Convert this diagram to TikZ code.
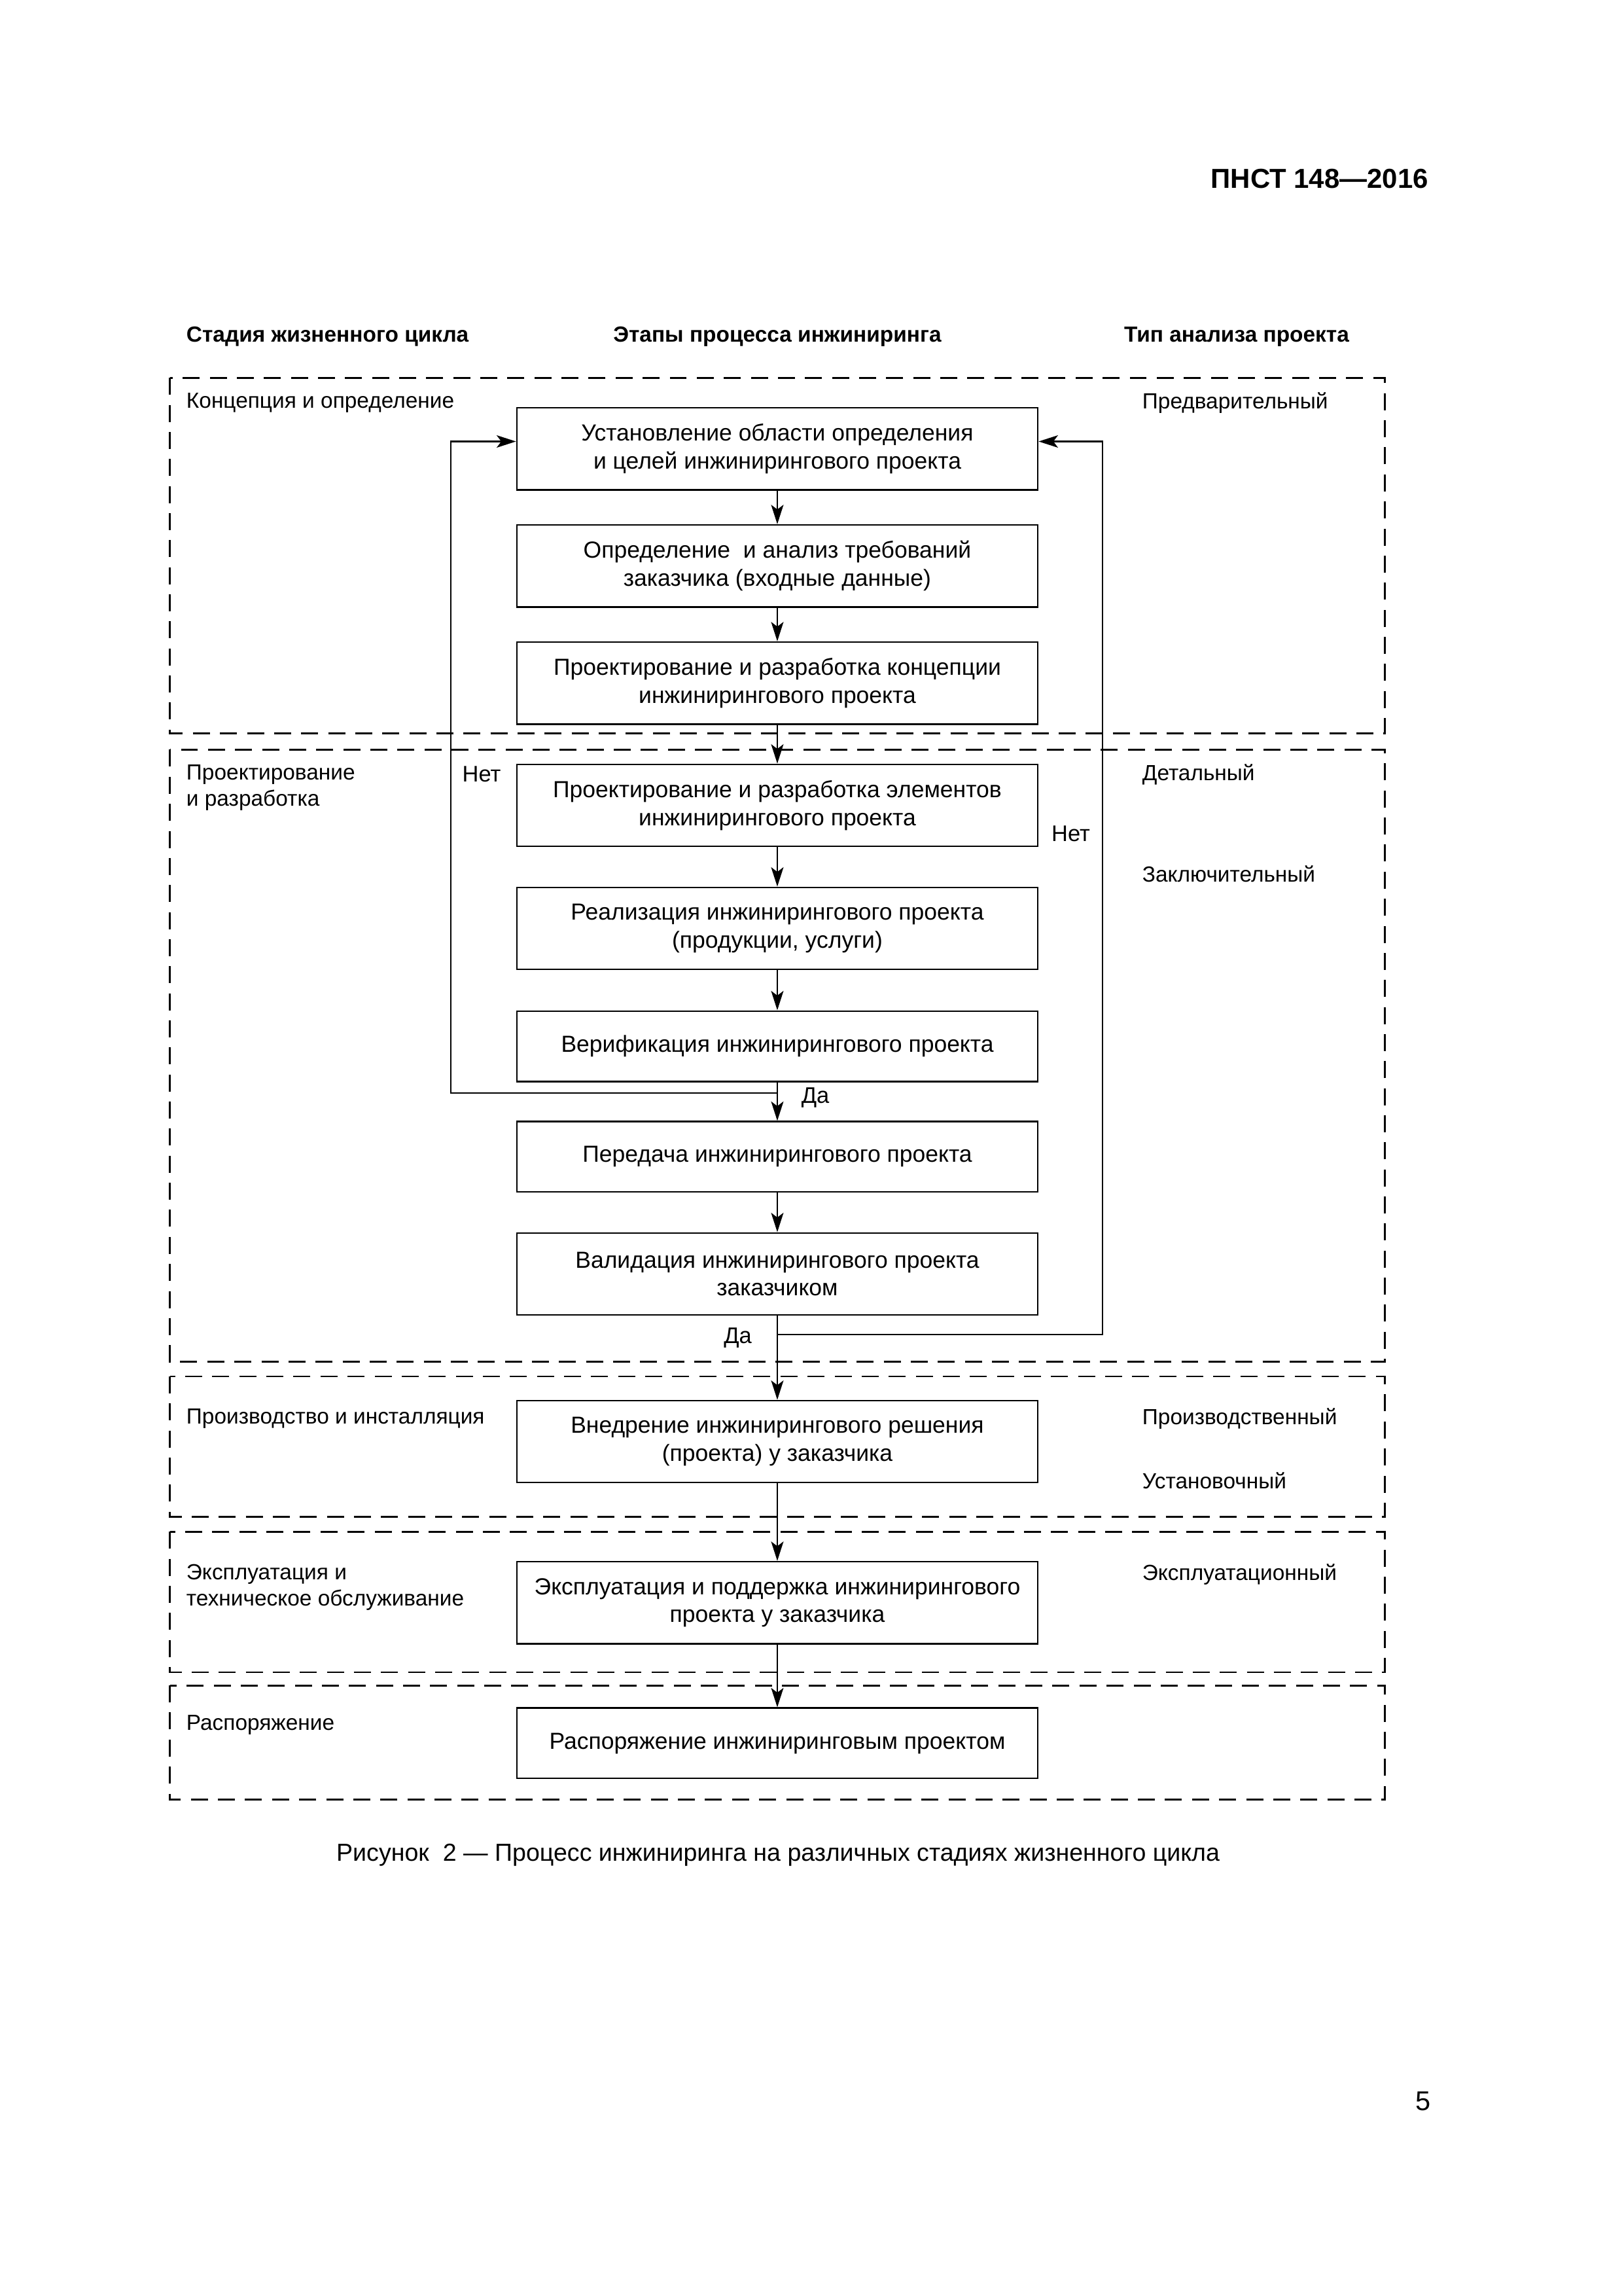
\documentclass[tikz,border=0pt]{standalone}
\usepackage{fontspec}
\setmainfont{Liberation Sans}
\usetikzlibrary{arrows.meta}

\tikzstyle{stage-frame}=[draw, line width=0.7pt, dash pattern=on 2.2mm off 1.3mm]
\tikzstyle{step-box}=[draw, line width=0.6pt, minimum width=67.4mm, minimum height=10.6mm, inner sep=0pt, align=center, font=\fontsize{8.55}{10.3}\selectfont]
\tikzstyle{step-box-low}=[step-box, minimum height=9.1mm]
\tikzstyle{flow}=[line width=0.55pt, -{Stealth[length=2.5mm, width=1.6mm, inset=0.6mm]}]
\tikzstyle{side-text}=[anchor=west, align=left, inner sep=0pt, font=\fontsize{8.05}{9.7}\selectfont]
\tikzstyle{branch-text}=[inner sep=0pt, font=\fontsize{8.3}{10}\selectfont]
\tikzstyle{head-text}=[inner sep=0pt, font=\fontsize{8.05}{10}\selectfont\bfseries]
\definecolor{PageBlack}{HTML}{000000}

\begin{document}
\begin{tikzpicture}[x=0.18936mm, y=-0.18936mm, color=PageBlack]
      \useasboundingbox (0,0) rectangle (1109,1568);

      \node (page-code) at (976,122) [anchor=east, inner sep=0pt, font=\fontsize{10.1}{12}\selectfont\bfseries] {ПНСТ 148—2016};

      \node (head-stage) at (127,230) [head-text, anchor=west] {Стадия жизненного цикла};
      \node (head-steps) at (531,230) [head-text] {Этапы процесса инжиниринга};
      \node (head-review) at (922,230) [head-text, anchor=east] {Тип анализа проекта};

      \draw[stage-frame] (116,258) rectangle (946,501);
      \draw[stage-frame] (116,512) rectangle (946,930);
      \draw[stage-frame] (116,940) rectangle (946,1036);
      \draw[stage-frame] (116,1046) rectangle (946,1142);
      \draw[stage-frame] (116,1151) rectangle (946,1229);

      \node (stage-concept) at (127,275) [side-text] {Концепция и определение};
      \node (stage-design) at (127,538) [side-text] {Проектирование\\и разработка};
      \node (stage-production) at (127,969) [side-text] {Производство и инсталляция};
      \node (stage-operation) at (127,1084) [side-text] {Эксплуатация и\\техническое обслуживание};
      \node (stage-disposal) at (127,1178) [side-text] {Распоряжение};

      \node (review-prelim) at (780,275) [side-text] {Предварительный};
      \node (review-detail) at (780,529) [side-text] {Детальный};
      \node (review-final) at (780,597) [side-text] {Заключительный};
      \node (review-prod) at (780,969) [side-text] {Производственный};
      \node (review-install) at (780,1011) [side-text] {Установочный};
      \node (review-oper) at (780,1075) [side-text] {Эксплуатационный};

      \node (step-scope) at (531,306.5) [step-box] {Установление области определения\\и целей инжинирингового проекта};
      \node (step-needs) at (531,386.5) [step-box] {Определение\ \ и анализ требований\\заказчика (входные данные)};
      \node (step-concept) at (531,466.5) [step-box] {Проектирование и разработка концепции\\инжинирингового проекта};
      \node (step-elements) at (531,550) [step-box] {Проектирование и разработка элементов\\инжинирингового проекта};
      \node (step-build) at (531,634) [step-box] {Реализация инжинирингового проекта\\(продукции, услуги)};
      \node (step-verify) at (531,714.5) [step-box-low] {Верификация инжинирингового проекта};
      \node (step-handover) at (531,790) [step-box-low] {Передача инжинирингового проекта};
      \node (step-validate) at (531,870) [step-box] {Валидация инжинирингового проекта\\заказчиком};
      \node (step-deploy) at (531,984.5) [step-box] {Внедрение инжинирингового решения\\(проекта) у заказчика};
      \node (step-support) at (531,1094.5) [step-box] {Эксплуатация и поддержка инжинирингового\\проекта у заказчика};
      \node (step-dispose) at (531,1190.5) [step-box-low] {Распоряжение инжиниринговым проектом};

      \draw[flow] (step-scope) -- (step-needs);
      \draw[flow] (step-needs) -- (step-concept);
      \draw[flow] (step-concept) -- (step-elements);
      \draw[flow] (step-elements) -- (step-build);
      \draw[flow] (step-build) -- (step-verify);
      \draw[flow] (step-verify) -- (step-handover);
      \draw[flow] (step-handover) -- (step-validate);
      \draw[flow] (step-validate) -- (step-deploy);
      \draw[flow] (step-deploy) -- (step-support);
      \draw[flow] (step-support) -- (step-dispose);

      \coordinate (branch-verify) at (531,746.5);
      \coordinate (branch-validate) at (531,911.5);
      \draw[flow] (branch-verify) -- ++(-223,0) |- ([yshift=0.95mm]step-scope.west);
      \draw[flow] (branch-validate) -- ++(222,0) |- ([yshift=0.95mm]step-scope.east);

      \node (answer-no-left) at (329,528.5) [branch-text] {Нет};
      \node (answer-no-right) at (731.5,569.5) [branch-text] {Нет};
      \node (answer-yes-verify) at (557,749.5) [branch-text] {Да};
      \node (answer-yes-validate) at (504,913.5) [branch-text] {Да};

      \node (page-caption) at (531.5,1267) [inner sep=0pt, font=\fontsize{9.05}{11}\selectfont] {Рисунок\ \ 2 — Процесс инжиниринга на различных стадиях жизненного цикла};
      \node (page-number) at (972,1435) [inner sep=0pt, font=\fontsize{10}{12}\selectfont] {5};
    \end{tikzpicture}
\end{document}
